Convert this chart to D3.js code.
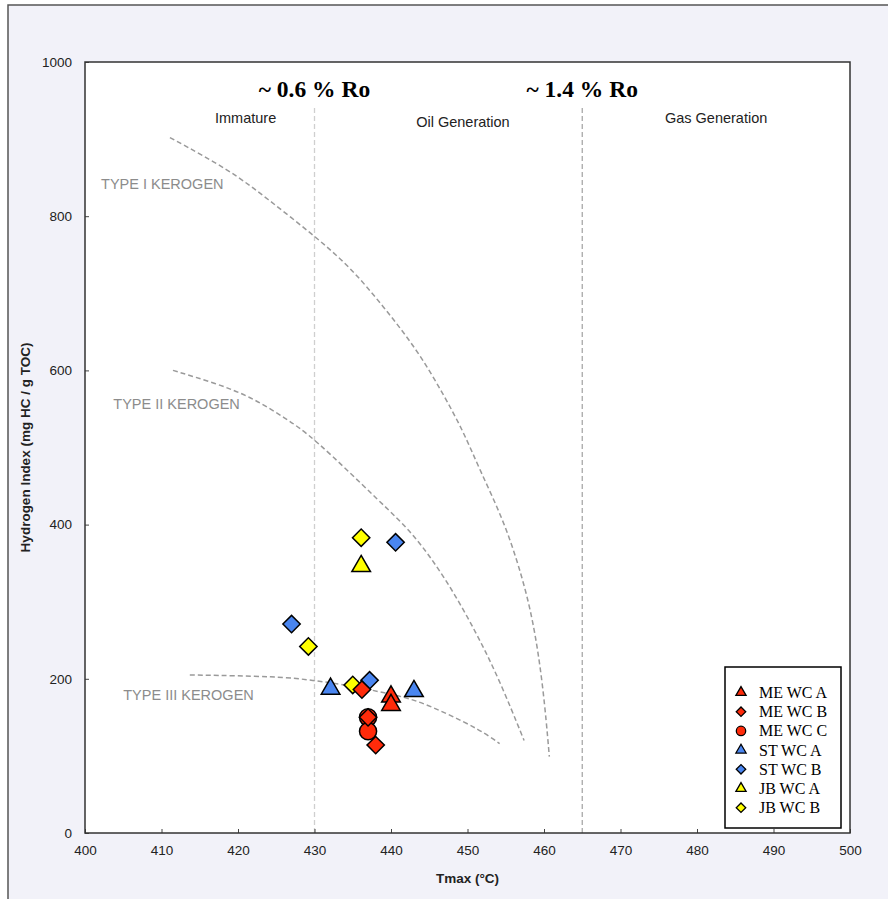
<!DOCTYPE html>
<html>
<head>
<meta charset="utf-8">
<script src="https://cdn.jsdelivr.net/npm/d3@7"></script>
<style>
  body { margin: 0; background: #fff; }
  svg { display: block; }
</style>
</head>
<body>
<svg id="chart"></svg>
<script>
// tick values
const xTicks = [400, 410, 420, 430, 440, 450, 460, 470, 480, 490, 500];
const yTicks = [0, 200, 400, 600, 800, 1000];

// samples, [Tmax, HI]
const meWcA = [[440, 177], [440, 166]];
const meWcB = [[436.2, 186], [437, 150], [438, 114]];
const meWcC = [[437, 150], [437, 132]];
const stWcA = [[432.1, 187], [443, 184]];
const stWcB = [[427, 271], [437.2, 198], [440.6, 377]];
const jbWcA = [[436.1, 346]];
const jbWcB = [[436.1, 383], [429.2, 242], [435, 192]];

const legendNames = ['ME WC A', 'ME WC B', 'ME WC C', 'ST WC A', 'ST WC B', 'JB WC A', 'JB WC B'];

// kerogen type guide curves
const typeI = [[411.1, 902], [418.9, 860], [423.8, 823], [429.8, 776], [434.6, 735], [439, 683],
  [443.4, 627], [446.8, 570], [449.5, 520], [451.6, 471], [454.7, 406], [456.9, 341],
  [458.6, 276], [459.9, 190], [460.7, 99]];
const typeII = [[411.5, 600], [417.2, 583], [421.6, 566], [425.9, 540], [429.8, 514],
  [438.8, 427], [442.9, 389], [447.3, 328], [451.2, 259], [454.2, 198], [457.4, 120]];
const typeIII = [[413.7, 205], [425.5, 203], [429.8, 198], [434.2, 192], [438.6, 183],
  [442.9, 174], [447.3, 155], [451.6, 134], [454.2, 116]];

const zoneLines = [430, 465];
const roLabels = ['~ 0.6 % Ro', '~ 1.4 % Ro'];
const zoneNames = [['Immature', 421], ['Oil Generation', 449.4], ['Gas Generation', 482.5]];
const kerogenNames = [['TYPE I KEROGEN', 402.1, 835], ['TYPE II KEROGEN', 403.7, 550], ['TYPE III KEROGEN', 405, 172]];

const W = 888, H = 899;
const svg = d3.select('#chart').attr('width', W).attr('height', H);

// outer panel
svg.append('rect').attr('x', 8).attr('y', 5).attr('width', W + 20).attr('height', H + 20)
  .attr('fill', '#f2f2f9').attr('stroke', '#555').attr('stroke-width', 1.5);

const x = d3.scaleLinear().domain([400, 500]).range([85, 850]);
const y = d3.scaleLinear().domain([0, 1000]).range([833, 62]);

svg.append('rect').attr('x', x(400)).attr('y', y(1000))
  .attr('width', x(500) - x(400)).attr('height', y(0) - y(1000)).attr('fill', '#fff');

// maturity zone lines
svg.append('g').selectAll('line').data(zoneLines).enter().append('line')
  .attr('x1', d => x(d)).attr('x2', d => x(d))
  .attr('y1', 108).attr('y2', y(0))
  .attr('stroke', (d, i) => i ? '#a8a8a8' : '#cfcfcf')
  .attr('stroke-width', 1.3)
  .attr('stroke-dasharray', '5,3');

// guide curves
const line = d3.line().x(d => x(d[0])).y(d => y(d[1])).curve(d3.curveBasis);
svg.append('g').selectAll('path').data([typeI, typeII, typeIII]).enter().append('path')
  .attr('d', line)
  .attr('fill', 'none')
  .attr('stroke', '#9a9a9a')
  .attr('stroke-width', 1.5)
  .attr('stroke-dasharray', '5,3');

svg.append('g').selectAll('text').data(kerogenNames).enter().append('text')
  .attr('x', d => x(d[1])).attr('y', d => y(d[2]))
  .attr('font-family', 'Liberation Sans, Arial, sans-serif')
  .attr('font-size', 14.5).attr('fill', '#8c8c8c')
  .text(d => d[0]);

svg.append('g').selectAll('text').data(zoneNames).enter().append('text')
  .attr('x', d => x(d[1])).attr('y', (d, i) => i === 1 ? 127 : 123)
  .attr('text-anchor', 'middle')
  .attr('font-family', 'Liberation Sans, Arial, sans-serif')
  .attr('font-size', 14.5).attr('fill', '#222')
  .text(d => d[0]);

svg.append('g').selectAll('text').data(roLabels).enter().append('text')
  .attr('x', (d, i) => x(zoneLines[i])).attr('y', 97)
  .attr('text-anchor', 'middle')
  .attr('font-family', 'Liberation Serif, Times New Roman, serif')
  .attr('font-weight', 'bold')
  .attr('font-size', 23.5).attr('fill', '#000')
  .text(d => d);

// axes
const xAxis = svg.append('g').attr('transform', `translate(0,${y(0)})`)
  .call(d3.axisBottom(x).tickValues(xTicks).tickSizeInner(-4).tickSizeOuter(0).tickPadding(12));
const yAxis = svg.append('g').attr('transform', `translate(${x(400)},0)`)
  .call(d3.axisLeft(y).tickValues(yTicks).tickFormat(d3.format('d'))
    .tickSizeInner(-4).tickSizeOuter(0).tickPadding(13));
[xAxis, yAxis].forEach(a => {
  a.select('.domain').remove();
  a.selectAll('.tick line').attr('stroke', '#444');
  a.selectAll('text').attr('font-family', 'Liberation Sans, Arial, sans-serif')
    .attr('font-size', 13.5).attr('fill', '#222');
});

svg.append('rect').attr('x', x(400)).attr('y', y(1000))
  .attr('width', x(500) - x(400)).attr('height', y(0) - y(1000))
  .attr('fill', 'none').attr('stroke', '#333').attr('stroke-width', 1.5);

svg.append('text').attr('x', x(450)).attr('y', 883)
  .attr('text-anchor', 'middle')
  .attr('font-family', 'Liberation Sans, Arial, sans-serif')
  .attr('font-weight', 'bold').attr('font-size', 13.5).attr('fill', '#222')
  .text('Tmax (°C)');

svg.append('text')
  .attr('transform', `translate(30,${y(500)}) rotate(-90)`)
  .attr('text-anchor', 'middle')
  .attr('font-family', 'Liberation Sans, Arial, sans-serif')
  .attr('font-weight', 'bold').attr('font-size', 13.5).attr('fill', '#222')
  .text('Hydrogen Index (mg HC / g TOC)');

// series styles
const RED = '#ff2b0a', BLUE = '#4a86f0', YELLOW = '#ffff00';
const series = [
  { name: 'ME WC A', data: meWcA, fill: RED, shape: 'tri' },
  { name: 'ME WC B', data: meWcB, fill: RED, shape: 'dia' },
  { name: 'ME WC C', data: meWcC, fill: RED, shape: 'cir' },
  { name: 'ST WC A', data: stWcA, fill: BLUE, shape: 'tri' },
  { name: 'ST WC B', data: stWcB, fill: BLUE, shape: 'dia' },
  { name: 'JB WC A', data: jbWcA, fill: YELLOW, shape: 'tri' },
  { name: 'JB WC B', data: jbWcB, fill: YELLOW, shape: 'dia' }
];

function symbolFor(shape, big) {
  const k = big ? 1 : 0.3;
  if (shape === 'tri') return d3.symbol(d3.symbolTriangle, 150 * k);
  if (shape === 'dia') return d3.symbol(d3.symbolSquare, 150 * k);
  return d3.symbol(d3.symbolCircle, 230 * k);
}

// later series on top
const pts = svg.append('g');
series.slice().reverse().forEach(s => {
  pts.append('g').selectAll('path').data(s.data).enter().append('path')
    .attr('d', symbolFor(s.shape, true))
    .attr('transform', d => `translate(${x(d[0])},${y(d[1])})` + (s.shape === 'dia' ? ' rotate(45)' : ''))
    .attr('fill', s.fill)
    .attr('stroke', '#000')
    .attr('stroke-width', 1.5);
});

// legend
const lg = svg.append('g').attr('transform', 'translate(725,667)');
lg.append('rect').attr('width', 116).attr('height', 161)
  .attr('fill', '#fff').attr('stroke', '#000').attr('stroke-width', 1.5);
const item = lg.selectAll('g.item').data(series).enter().append('g')
  .attr('class', 'item')
  .attr('transform', (d, i) => `translate(16,${25.5 + i * 19.2})`);
item.append('path')
  .attr('d', d => symbolFor(d.shape, false)())
  .attr('transform', d => d.shape === 'dia' ? 'rotate(45)' : null)
  .attr('fill', d => d.fill).attr('stroke', '#000').attr('stroke-width', 1.3);
item.append('text').attr('x', 18).attr('y', 5.5)
  .attr('font-family', 'Liberation Serif, Times New Roman, serif')
  .attr('font-size', 16).attr('fill', '#000')
  .text(d => d.name);
</script>
</body>
</html>
